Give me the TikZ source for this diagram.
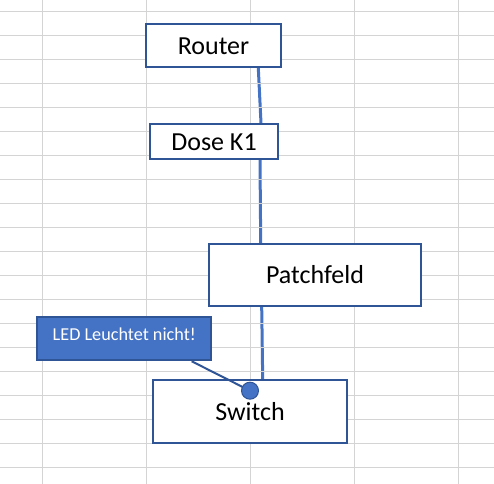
\documentclass[tikz,border=0pt]{standalone}
\usepackage{fontspec}
\setmainfont{Carlito}
\usetikzlibrary{calc,backgrounds}
\definecolor{gridgray}{RGB}{212,212,212}
\definecolor{boxborder}{RGB}{47,85,151}
\definecolor{linkblue}{RGB}{68,114,196}
\tikzset{
  gridline/.style={draw=gridgray,line width=0.75pt},
  devbox/.style={draw=boxborder,line width=1.5pt,fill=white,inner sep=0pt,
    font=\fontsize{19.5pt}{22pt}\selectfont,text height=13.2pt,text depth=0pt},
  cable/.style={draw=linkblue,line width=2.25pt},
  calloutbox/.style={draw=boxborder,line width=1.5pt,fill=linkblue,inner sep=0pt,
    text=white,font=\fontsize{13.65pt}{16pt}\selectfont,text height=9pt,text depth=6.15pt},
  leader/.style={draw=boxborder,line width=1.5pt},
  leddot/.style={circle,draw=boxborder,line width=0.75pt,fill=linkblue,
    minimum size=12.75pt,inner sep=0pt}
}
\begin{document}
\begin{tikzpicture}[x=0.75pt,y=-0.75pt]
\useasboundingbox (0,0) rectangle (494,484);
% grid
\foreach \gx in {42,146,250,354,458} \draw[gridline] (\gx,0) -- (\gx,484);
\foreach \k in {0,...,19} \draw[gridline] (0,11.3+24*\k) -- (494,11.3+24*\k);
% devices
\node[devbox,minimum width=101.25pt,minimum height=32.25pt] (router) at (213.5,45.5) {Router};
\node[devbox,minimum width=96pt,minimum height=26.25pt] (dose) at (214,141.5) {Dose K1};
\node[devbox,minimum width=159pt,minimum height=46.5pt] (patch) at (315,275) {Patchfeld};
\node[devbox,minimum width=145.5pt,minimum height=47.25pt] (switch) at (250,411.5) {Switch};
\node[calloutbox,minimum width=130.5pt,minimum height=32.25pt] (led) at (124.3,338.8) {LED Leuchtet nicht!};
% cables
\begin{pgfonlayer}{background}
\draw[cable] ($(router.south)+(44.8,0)$) -- ($(dose.north)+(47,0)$);
\draw[cable] ($(dose.south)+(46,0)$) -- ($(patch.north)+(-54.3,0)$);
\draw[cable] ($(patch.south)+(-53.3,0)$) -- ($(switch.north)+(12.7,0)$);
\end{pgfonlayer}
% callout leader and dot
\coordinate (dotc) at (250,390.7);
\draw[leader] ($(led.south)+(67.4,0)$) -- (dotc);
\node[leddot] (dot) at (dotc) {};
\end{tikzpicture}
\end{document}
